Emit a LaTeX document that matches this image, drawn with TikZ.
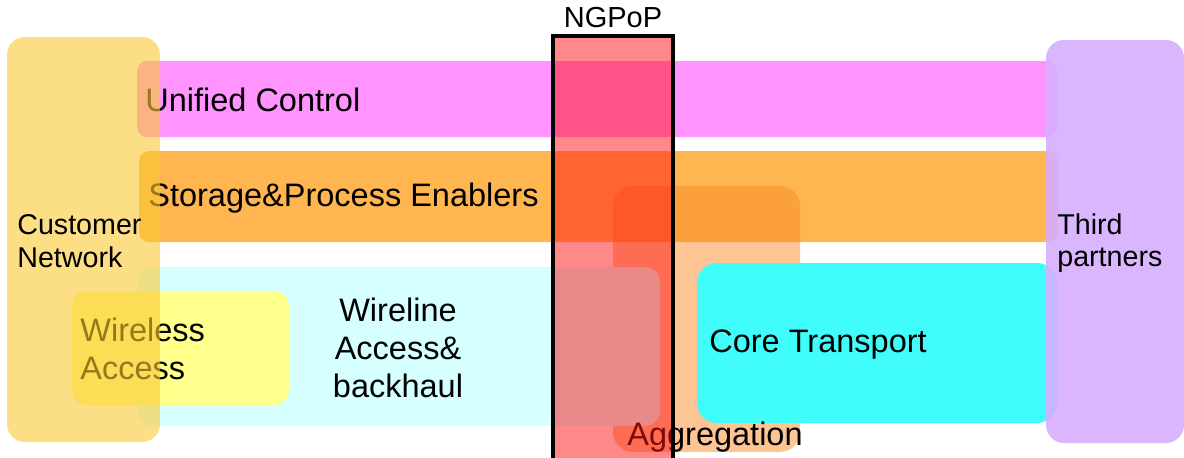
\documentclass[tikz,border=0pt]{standalone}
\usepackage{fontspec}
\setmainfont{Liberation Sans}
\definecolor{ctrlpink}{RGB}{255,148,255}
\definecolor{storeorange}{RGB}{255,182,80}
\definecolor{aggpeach}{RGB}{250,140,40}
\definecolor{wirecyan}{RGB}{214,255,255}
\definecolor{wlyellow}{RGB}{255,255,140}
\definecolor{corecyan}{RGB}{64,252,250}
\definecolor{custyellow}{RGB}{250,200,50}
\definecolor{thirdlilac}{RGB}{214,174,255}
\definecolor{popred}{RGB}{255,20,20}

\begin{document}
\begin{tikzpicture}[x=0.02cm, y=-0.02cm,
    lbl/.style={anchor=west, align=left, inner sep=0pt, font=\fontsize{18.5}{21.5}\selectfont},
    sidelbl/.style={anchor=west, align=left, inner sep=0pt, font=\fontsize{16.3}{18.5}\selectfont}]
    \useasboundingbox (0,0) rectangle (1184,457);

    \fill[ctrlpink, rounded corners=0.2cm] (137,61) rectangle (1057,137);
    \fill[storeorange, rounded corners=0.2cm] (139,151) rectangle (1058,242);
    \fill[aggpeach, fill opacity=0.5, rounded corners=0.4cm] (613,186) rectangle (800,452);
    \fill[wirecyan, rounded corners=0.3cm] (138,267) rectangle (660,426);
    \fill[wlyellow, rounded corners=0.3cm] (72,291) rectangle (289,405);
    \fill[corecyan, rounded corners=0.4cm] (697,263) rectangle (1057,423);

    \node(ctrl)[lbl] at (145,100) {Unified Control};
    \node(store)[lbl] at (148,198) {Storage\&Process Enablers};
    \node(wless)[lbl] at (80,349) {Wireless\\Access};
    \node(wline)[lbl, anchor=center, align=center] at (398,348) {Wireline\\Access\&\\backhaul};
    \node(core)[lbl] at (709,345) {Core Transport};
    \node(agg)[lbl] at (627,437) {Aggregation};

    \fill[custyellow, fill opacity=0.6, rounded corners=0.36cm] (7,37) rectangle (160,442);
    \fill[thirdlilac, fill opacity=0.9, rounded corners=0.36cm] (1046,40) rectangle (1184,443);
    \filldraw[popred, fill opacity=0.5, draw=black, line width=2.4pt] (553,36) rectangle (673,470);

    \node(cust)[sidelbl] at (17,241) {Customer\\Network};
    \node(third)[sidelbl] at (1057,243) {Third\\partners};
    \node(pop)[inner sep=0pt, font=\fontsize{16.5}{18}\selectfont] at (613,18) {NGPoP};
\end{tikzpicture}
\end{document}
